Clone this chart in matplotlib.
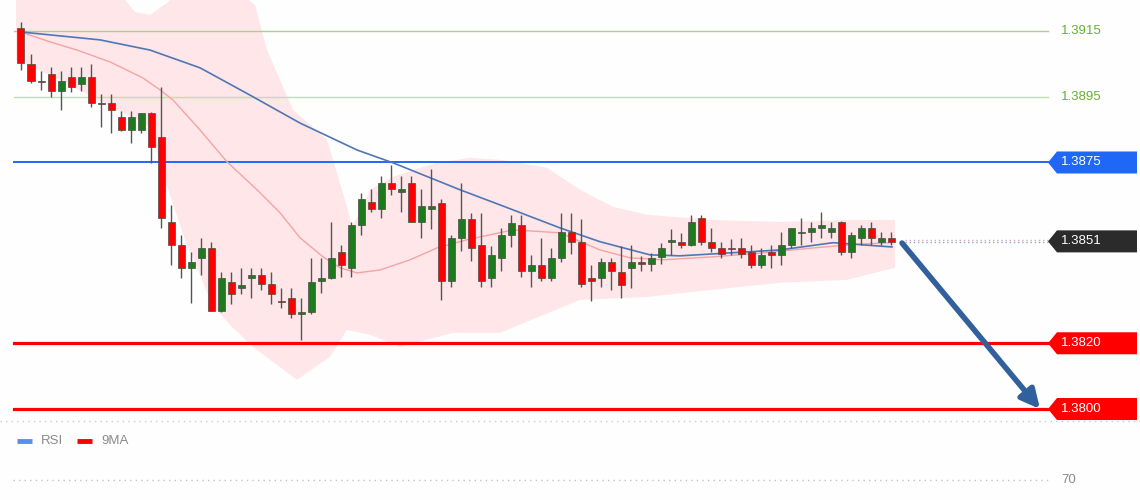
#! /usr/bin/env python3
# USD/CAD-style intraday chart: candles, bands, averages, levels and a bearish arrow.

import numpy as np
import matplotlib
matplotlib.use("Agg")
import matplotlib.pyplot as plt
from matplotlib.patches import Polygon, Rectangle

plt.rcParams['font.family'] = ['Liberation Sans', 'DejaVu Sans']

# ---- candles (open, high, low, close) ----
opens = [1.39159, 1.39050, 1.38998, 1.39019, 1.38968, 1.39010, 1.38989, 1.39010, 1.38931, 1.38931,
         1.38889, 1.38849, 1.38849, 1.38901, 1.38828, 1.38569, 1.38499, 1.38430, 1.38460, 1.38490,
         1.38299, 1.38387, 1.38369, 1.38399, 1.38408, 1.38381, 1.38329, 1.38338, 1.38290, 1.38296,
         1.38390, 1.38399, 1.38478, 1.38430, 1.38560, 1.38630, 1.38609, 1.38688, 1.38661, 1.38688,
         1.38569, 1.38609, 1.38627, 1.38390, 1.38521, 1.38578, 1.38499, 1.38399, 1.38460, 1.38530,
         1.38560, 1.38420, 1.38439, 1.38399, 1.38460, 1.38539, 1.38509, 1.38399, 1.38399, 1.38448,
         1.38417, 1.38430, 1.38448, 1.38442, 1.38463, 1.38509, 1.38509, 1.38499, 1.38582, 1.38509,
         1.38490, 1.38490, 1.38490, 1.38478, 1.38439, 1.38478, 1.38469, 1.38499, 1.38536, 1.38539,
         1.38551, 1.38539, 1.38569, 1.38478, 1.38521, 1.38551, 1.38509, 1.38521]
highs = [1.39177, 1.39080, 1.39028, 1.39041, 1.39028, 1.39041, 1.39041, 1.39050, 1.38958, 1.38958,
         1.38907, 1.38907, 1.38901, 1.38904, 1.38980, 1.38621, 1.38530, 1.38478, 1.38521, 1.38509,
         1.38417, 1.38417, 1.38430, 1.38430, 1.38430, 1.38417, 1.38369, 1.38369, 1.38338, 1.38460,
         1.38460, 1.38569, 1.38499, 1.38569, 1.38658, 1.38670, 1.38709, 1.38743, 1.38709, 1.38709,
         1.38670, 1.38730, 1.38639, 1.38530, 1.38688, 1.38597, 1.38597, 1.38496, 1.38551, 1.38591,
         1.38591, 1.38469, 1.38521, 1.38490, 1.38597, 1.38597, 1.38578, 1.38439, 1.38460, 1.38460,
         1.38496, 1.38499, 1.38466, 1.38475, 1.38506, 1.38548, 1.38536, 1.38591, 1.38591, 1.38551,
         1.38509, 1.38518, 1.38521, 1.38499, 1.38490, 1.38499, 1.38539, 1.38551, 1.38582, 1.38569,
         1.38600, 1.38569, 1.38572, 1.38539, 1.38560, 1.38569, 1.38539, 1.38539]
lows = [1.39031, 1.38992, 1.38971, 1.38949, 1.38910, 1.38965, 1.38968, 1.38919, 1.38858, 1.38840,
        1.38846, 1.38810, 1.38840, 1.38749, 1.38551, 1.38439, 1.38399, 1.38323, 1.38408, 1.38299,
        1.38296, 1.38320, 1.38350, 1.38338, 1.38363, 1.38320, 1.38308, 1.38278, 1.38211, 1.38290,
        1.38354, 1.38396, 1.38402, 1.38402, 1.38530, 1.38600, 1.38582, 1.38651, 1.38600, 1.38569,
        1.38521, 1.38548, 1.38332, 1.38372, 1.38481, 1.38451, 1.38372, 1.38372, 1.38420, 1.38493,
        1.38402, 1.38372, 1.38390, 1.38390, 1.38448, 1.38472, 1.38372, 1.38329, 1.38372, 1.38363,
        1.38338, 1.38369, 1.38420, 1.38420, 1.38442, 1.38469, 1.38490, 1.38496, 1.38499, 1.38478,
        1.38460, 1.38469, 1.38460, 1.38430, 1.38430, 1.38430, 1.38439, 1.38490, 1.38499, 1.38509,
        1.38521, 1.38521, 1.38469, 1.38460, 1.38499, 1.38499, 1.38499, 1.38499]
closes = [1.39053, 1.38998, 1.38995, 1.38968, 1.38998, 1.38980, 1.39010, 1.38931, 1.38928, 1.38910,
          1.38849, 1.38889, 1.38901, 1.38797, 1.38582, 1.38499, 1.38430, 1.38448, 1.38490, 1.38299,
          1.38399, 1.38350, 1.38378, 1.38408, 1.38381, 1.38350, 1.38326, 1.38290, 1.38296, 1.38387,
          1.38399, 1.38460, 1.38439, 1.38560, 1.38639, 1.38609, 1.38688, 1.38670, 1.38670, 1.38569,
          1.38618, 1.38618, 1.38390, 1.38521, 1.38578, 1.38490, 1.38390, 1.38469, 1.38530, 1.38566,
          1.38420, 1.38439, 1.38399, 1.38460, 1.38539, 1.38509, 1.38381, 1.38390, 1.38448, 1.38420,
          1.38378, 1.38448, 1.38442, 1.38460, 1.38490, 1.38512, 1.38499, 1.38569, 1.38509, 1.38490,
          1.38472, 1.38487, 1.38472, 1.38439, 1.38469, 1.38469, 1.38499, 1.38551, 1.38539, 1.38551,
          1.38560, 1.38551, 1.38478, 1.38530, 1.38551, 1.38521, 1.38521, 1.38509]

# ---- averages (bar index / price) ----
slow_x = [0, 7.9, 12.9, 17.9, 22.9, 27.9, 33.6, 37.2, 43.9, 47.9, 53.9, 57.9, 62.9, 65.9, 72.6, 75.9, 81.2, 87.1]
slow_y = [1.39147, 1.39123, 1.39092, 1.39038, 1.38955, 1.38870, 1.38788, 1.38749, 1.38667, 1.38621,
          1.38551, 1.38509, 1.38469, 1.38466, 1.38478, 1.38484, 1.38506, 1.38493]
fast_x = [0, 2.9, 5.6, 8.9, 12.2, 13.9, 15.2, 17.9, 20.6, 23.6, 25.9, 27.9, 30.2, 31.9, 33.6, 35.9,
          38.9, 41.6, 44.6, 49.2, 53.9, 57.9, 60.9, 64.2, 69.2, 74.2, 79.2, 83.9, 87.1]
fast_y = [1.39147, 1.39117, 1.39092, 1.39056, 1.39007, 1.38971, 1.38940, 1.38849, 1.38752, 1.38667,
          1.38597, 1.38521, 1.38463, 1.38430, 1.38414, 1.38423, 1.38454, 1.38490, 1.38515, 1.38545,
          1.38536, 1.38484, 1.38460, 1.38454, 1.38463, 1.38475, 1.38490, 1.38502, 1.38506]

# ---- band edges ----
upper_x = [-0.5, 7.9, 10.4, 11.4, 12.9, 14.6, 15.9, 21.4, 23.4, 24.6, 27.2, 30.6, 31.6, 32.6, 33.1,
           33.9, 34.9, 37.2, 39.2, 41.6, 44.9, 47.9, 49.2, 52.6, 55.9, 59.2, 62.6, 69.2, 75.9, 82.6, 87.4]
upper_y = [1.39320, 1.39290, 1.39244, 1.39208, 1.39199, 1.39235, 1.39275, 1.39275, 1.39229, 1.39092,
           1.38910, 1.38819, 1.38718, 1.38615, 1.38554, 1.38600, 1.38667, 1.38706, 1.38727, 1.38749,
           1.38764, 1.38758, 1.38752, 1.38734, 1.38667, 1.38615, 1.38591, 1.38575, 1.38569, 1.38575, 1.38575]
lower_x = [-0.5, 3.9, 7.2, 12.9, 14.4, 16.4, 17.9, 19.1, 20.9, 23.2, 27.6, 30.9, 32.6, 34.9, 37.9,
           43.2, 47.9, 55.9, 62.6, 69.2, 75.9, 82.6, 87.4]
lower_y = [1.39062, 1.39001, 1.38949, 1.38858, 1.38697, 1.38515, 1.38408, 1.38317, 1.38256, 1.38189,
           1.38089, 1.38159, 1.38241, 1.38226, 1.38189, 1.38232, 1.38232, 1.38332, 1.38341, 1.38363,
           1.38384, 1.38393, 1.38430]

# ---- horizontal levels ----
green_levels = [1.3915, 1.3895]
green_colors = ['#b3c99c', '#bfe0a8']
box_levels = [1.3875, 1.3851, 1.3820, 1.3800]
box_colors = ['#1f68f5', '#2b2b2b', '#ff0000', '#ff0000']
box_texts = ['1.3875', '1.3851', '1.3820', '1.3800']

arrow_from = (88.1, 1.38505)
arrow_to = (101.9, 1.3800)


def main():
    fig = plt.figure(figsize=(11.4, 5.0), dpi=100, facecolor='#fdfefd')
    ax = fig.add_axes([0, 0.16, 1, 0.84])
    ax.set_facecolor('#fdfefd')
    x0, x1 = -2.1, 111.9
    ax.set_xlim(x0, x1)
    ax.set_ylim(1.379666, 1.392443)
    ax.axis('off')

    # band
    bx = np.concatenate([upper_x, lower_x[::-1]])
    by = np.concatenate([upper_y, lower_y[::-1]])
    ax.fill(bx, by, color='#fee6e9', lw=0, zorder=1)

    # level lines
    xl0, xl1 = -0.7, 102.7
    for lev, col in zip(green_levels, green_colors):
        ax.plot([xl0, xl1], [lev, lev], color=col, lw=1.0, zorder=2)
        ax.text(104.0, lev, f"{lev:.4f}", color='#66b02e', fontsize=9.5, va='center', ha='left')
    widths = [1.4, 0, 2.3, 2.3]
    for lev, col, w in zip(box_levels, box_colors, widths):
        if w > 0:
            ax.plot([xl0, xl1], [lev, lev], color=col, lw=w, zorder=2)

    # last price dotted guides
    ax.plot([88.4, xl1], [closes[-1] + 0.00006, closes[-1] + 0.00006], color='#d8a8b8', lw=1, ls=(0, (1, 2)), zorder=2)
    ax.plot([88.4, xl1], [closes[-1] - 0.00002, closes[-1] - 0.00002], color='#8fa6d8', lw=1, ls=(0, (1, 2)), zorder=2)

    # averages
    ax.plot(fast_x, fast_y, color='#f5a3a3', lw=1.0, zorder=3)
    ax.plot(slow_x, slow_y, color='#4f76b5', lw=1.2, zorder=3)

    # candles
    idx = np.arange(len(opens))
    ax.vlines(idx, lows, highs, color='#555555', lw=1.0, zorder=4)
    for i in idx:
        o, c = opens[i], closes[i]
        col = '#1d7a1d' if c > o else '#ff0000'
        lo, hi = min(o, c), max(o, c)
        h = max(hi - lo, 0.00004)
        ax.add_patch(Rectangle((i - 0.35, lo), 0.7, h, facecolor=col, edgecolor='#4a4a4a',
                               lw=0.5, zorder=5))

    # price boxes
    half = 0.000335
    for lev, col, txt in zip(box_levels, box_colors, box_texts):
        pts = [(102.7, lev), (103.6, lev + half), (111.6, lev + half), (111.6, lev - half), (103.6, lev - half)]
        ax.add_patch(Polygon(pts, closed=True, facecolor=col, edgecolor='none', zorder=6))
        ax.text(104.0, lev, txt, color='white', fontsize=9.5, va='center', ha='left', zorder=7)

    # bearish arrow
    ax.annotate('', xy=arrow_to, xytext=arrow_from,
                arrowprops=dict(arrowstyle='-|>', lw=4, color='#31609c', mutation_scale=28,
                                shrinkA=0, shrinkB=0), zorder=8)

    # lower panel
    ax2 = fig.add_axes([0, 0, 1, 0.16])
    ax2.set_xlim(0, 1140)
    ax2.set_ylim(80, 0)
    ax2.axis('off')
    ax2.plot([0, 1140], [1, 1], color='#c8ccd0', lw=1, ls=(0, (1, 3)))
    ax2.plot([13, 1048], [60, 60], color='#c0c4c8', lw=1, ls=(0, (1, 3)))
    ax2.plot([17, 32], [21, 21], color='#5b8def', lw=3.5, solid_capstyle='butt')
    ax2.text(41, 21, 'RSI', color='#8a8a8a', fontsize=9.5, va='center')
    ax2.plot([77, 92], [21, 21], color='#ff0000', lw=3.5, solid_capstyle='butt')
    ax2.text(101, 21, '9MA', color='#8a8a8a', fontsize=9.5, va='center')
    ax2.text(1061, 60, '70', color='#8a8a8a', fontsize=9.5, va='center')

    fig.savefig('out.png', dpi=100, facecolor=fig.get_facecolor())


if __name__ == "__main__":
    main()
